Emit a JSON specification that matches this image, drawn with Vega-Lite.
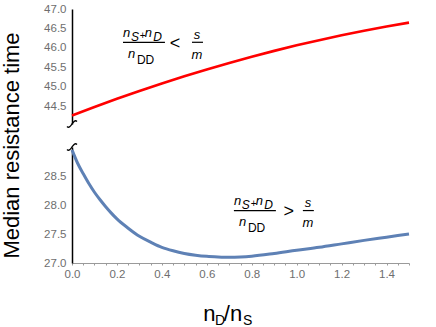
{
  "$schema": "https://vega.github.io/schema/vega-lite/v6.json",
  "padding": {"left": 0, "top": 3, "right": 0, "bottom": 0},
  "bounds": "flush",
  "spacing": 23,
  "config": {
    "view": {"stroke": null},
    "font": "Liberation Sans",
    "axis": {"labelFont": "Liberation Sans", "labelFontSize": 11.5, "labelColor": "#6e6e6e", "grid": false, "titleFont": "Liberation Sans"}
  },
  "datasets": {
    "red": [
      {"x": 0, "y": 44.27}, {"x": 0.1, "y": 44.488}, {"x": 0.2, "y": 44.697}, {"x": 0.3, "y": 44.898},
      {"x": 0.4, "y": 45.09}, {"x": 0.5, "y": 45.275}, {"x": 0.6, "y": 45.45}, {"x": 0.7, "y": 45.617},
      {"x": 0.8, "y": 45.776}, {"x": 0.9, "y": 45.926}, {"x": 1.0, "y": 46.068}, {"x": 1.1, "y": 46.201},
      {"x": 1.2, "y": 46.326}, {"x": 1.3, "y": 46.443}, {"x": 1.4, "y": 46.551}, {"x": 1.5, "y": 46.65}
    ],
    "blue": [
      {"x": 0, "y": 28.95}, {"x": 0.025, "y": 28.72}, {"x": 0.05, "y": 28.54}, {"x": 0.075, "y": 28.37},
      {"x": 0.1, "y": 28.22}, {"x": 0.125, "y": 28.09}, {"x": 0.15, "y": 27.97}, {"x": 0.175, "y": 27.86},
      {"x": 0.2, "y": 27.76}, {"x": 0.25, "y": 27.6}, {"x": 0.3, "y": 27.46}, {"x": 0.35, "y": 27.36},
      {"x": 0.4, "y": 27.27}, {"x": 0.45, "y": 27.21}, {"x": 0.5, "y": 27.165}, {"x": 0.55, "y": 27.135},
      {"x": 0.6, "y": 27.115}, {"x": 0.65, "y": 27.105}, {"x": 0.7, "y": 27.1}, {"x": 0.75, "y": 27.105},
      {"x": 0.8, "y": 27.118}, {"x": 0.9, "y": 27.165}, {"x": 1.0, "y": 27.22}, {"x": 1.1, "y": 27.27},
      {"x": 1.2, "y": 27.33}, {"x": 1.3, "y": 27.39}, {"x": 1.4, "y": 27.445}, {"x": 1.5, "y": 27.5}
    ],
    "notes": [
      {"panel": "top", "part": "n", "x": 0.227, "y": 46.292, "t": "n"},
      {"panel": "top", "part": "sub", "x": 0.2625, "y": 46.189, "t": "S"},
      {"panel": "top", "part": "plus", "x": 0.3015, "y": 46.228, "t": "+"},
      {"panel": "top", "part": "n", "x": 0.3235, "y": 46.292, "t": "n"},
      {"panel": "top", "part": "sub", "x": 0.3615, "y": 46.189, "t": "D"},
      {"panel": "top", "part": "n", "x": 0.249, "y": 45.747, "t": "n"},
      {"panel": "top", "part": "dd", "x": 0.289, "y": 45.601, "t": "DD"},
      {"panel": "top", "part": "op", "x": 0.458, "y": 46.1, "t": "<"},
      {"panel": "top", "part": "sm", "x": 0.556, "y": 46.24, "t": "s"},
      {"panel": "top", "part": "sm", "x": 0.556, "y": 45.729, "t": "m"},
      {"panel": "bottom", "part": "n", "x": 0.7206, "y": 28.002, "t": "n"},
      {"panel": "bottom", "part": "sub", "x": 0.756, "y": 27.933, "t": "S"},
      {"panel": "bottom", "part": "plus", "x": 0.7955, "y": 27.959, "t": "+"},
      {"panel": "bottom", "part": "n", "x": 0.8175, "y": 28.002, "t": "n"},
      {"panel": "bottom", "part": "sub", "x": 0.8555, "y": 27.933, "t": "D"},
      {"panel": "bottom", "part": "n", "x": 0.743, "y": 27.636, "t": "n"},
      {"panel": "bottom", "part": "dd", "x": 0.783, "y": 27.538, "t": "DD"},
      {"panel": "bottom", "part": "op", "x": 0.965, "y": 27.873, "t": ">"},
      {"panel": "bottom", "part": "sm", "x": 1.05, "y": 27.967, "t": "s"},
      {"panel": "bottom", "part": "sm", "x": 1.05, "y": 27.624, "t": "m"},
      {"panel": "bottom", "part": "tn", "x": 0.5845, "y": 25.997, "t": "n"},
      {"panel": "bottom", "part": "ts", "x": 0.636, "y": 25.931, "t": "D"},
      {"panel": "bottom", "part": "tn", "x": 0.676, "y": 25.997, "t": "/"},
      {"panel": "bottom", "part": "tn", "x": 0.703, "y": 25.997, "t": "n"},
      {"panel": "bottom", "part": "ts", "x": 0.761, "y": 25.931, "t": "S"}
    ],
    "bars": [
      {"panel": "top", "x": 0.227, "x2": 0.4137, "y": 46.146},
      {"panel": "top", "x": 0.534, "x2": 0.583, "y": 46.146},
      {"panel": "bottom", "x": 0.7206, "x2": 0.9075, "y": 27.904},
      {"panel": "bottom", "x": 1.0276, "x2": 1.0765, "y": 27.904}
    ],
    "breaks": [
      {"panel": "top", "x": 0, "y": 44.05},
      {"panel": "bottom", "x": 0, "y": 29.0}
    ]
  },
  "vconcat": [
    {
      "width": 337,
      "height": 115,
      "encoding": {
        "x": {"field": "x", "type": "quantitative", "scale": {"domain": [0, 1.5], "nice": false, "zero": false}, "axis": null},
        "y": {"field": "y", "type": "quantitative", "scale": {"domain": [44.05, 47.0], "nice": false, "zero": false},
              "axis": {"values": [44.5, 45, 45.5, 46, 46.5, 47], "format": ".1f", "title": null, "ticks": false, "domainColor": "black", "domainWidth": 1.5, "labelPadding": 6}}
      },
      "layer": [
        {"data": {"name": "red"}, "mark": {"type": "line", "color": "#ff0000", "strokeWidth": 2.6, "interpolate": "monotone"}},
        {"data": {"name": "breaks"}, "transform": [{"filter": "datum.panel === 'top'"}],
         "mark": {"type": "point", "shape": "M -1 0.5 C -0.6 0.9 -0.3 0.4 0 0 C 0.3 -0.4 0.6 -0.9 1 -0.5", "size": 100, "filled": false, "stroke": "black", "strokeWidth": 1.3, "opacity": 1}},
        {"data": {"name": "bars"}, "transform": [{"filter": "datum.panel === 'top'"}],
         "mark": {"type": "rule", "color": "black", "strokeWidth": 1.2}, "encoding": {"x2": {"field": "x2"}}},
        {"data": {"name": "notes"}, "transform": [{"filter": "datum.panel === 'top' && datum.part === 'n'"}],
         "mark": {"type": "text", "fontStyle": "italic", "fontSize": 13, "align": "left", "baseline": "alphabetic", "color": "black"}, "encoding": {"text": {"field": "t"}}},
        {"data": {"name": "notes"}, "transform": [{"filter": "datum.panel === 'top' && datum.part === 'sub'"}],
         "mark": {"type": "text", "fontStyle": "italic", "fontSize": 12, "align": "left", "baseline": "alphabetic", "color": "black"}, "encoding": {"text": {"field": "t"}}},
        {"data": {"name": "notes"}, "transform": [{"filter": "datum.panel === 'top' && datum.part === 'plus'"}],
         "mark": {"type": "text", "fontSize": 10, "align": "left", "baseline": "alphabetic", "color": "black"}, "encoding": {"text": {"field": "t"}}},
        {"data": {"name": "notes"}, "transform": [{"filter": "datum.panel === 'top' && datum.part === 'dd'"}],
         "mark": {"type": "text", "fontSize": 12, "align": "left", "baseline": "alphabetic", "color": "black"}, "encoding": {"text": {"field": "t"}}},
        {"data": {"name": "notes"}, "transform": [{"filter": "datum.panel === 'top' && datum.part === 'op'"}],
         "mark": {"type": "text", "fontSize": 18, "align": "center", "baseline": "middle", "color": "black"}, "encoding": {"text": {"field": "t"}}},
        {"data": {"name": "notes"}, "transform": [{"filter": "datum.panel === 'top' && datum.part === 'sm'"}],
         "mark": {"type": "text", "fontStyle": "italic", "fontSize": 13, "align": "center", "baseline": "alphabetic", "color": "black"}, "encoding": {"text": {"field": "t"}}}
      ]
    },
    {
      "width": 337,
      "height": 116,
      "encoding": {
        "x": {"field": "x", "type": "quantitative", "scale": {"domain": [0, 1.5], "nice": false, "zero": false},
              "axis": {"values": [0, 0.05, 0.1, 0.15, 0.2, 0.25, 0.3, 0.35, 0.4, 0.45, 0.5, 0.55, 0.6, 0.65, 0.7, 0.75, 0.8, 0.85, 0.9, 0.95, 1.0, 1.05, 1.1, 1.15, 1.2, 1.25, 1.3, 1.35, 1.4, 1.45, 1.5],
                       "labelExpr": "(round(datum.value * 100) % 20 === 0) ? format(datum.value, '.1f') : ''",
                       "labelOverlap": false, "labelFlush": false, "title": null, "domainColor": "#9a9a9a", "tickColor": "#9a9a9a", "tickSize": 2, "labelPadding": 3}},
        "y": {"field": "y", "type": "quantitative", "scale": {"domain": [27.0, 29.0], "nice": false, "zero": false},
              "axis": {"values": [27, 27.5, 28, 28.5], "format": ".1f", "ticks": false, "domainColor": "black", "domainWidth": 1.5, "labelPadding": 6,
                       "title": "Median resistance time", "titleFontSize": 22, "titleFontWeight": "normal", "titleColor": "black",
                       "titleAngle": 270, "titleAlign": "center", "titleBaseline": "alphabetic", "titleX": -53.5, "titleY": -2}}
      },
      "layer": [
        {"data": {"name": "blue"}, "mark": {"type": "line", "color": "#5e81b5", "strokeWidth": 3, "interpolate": "monotone"}},
        {"data": {"name": "breaks"}, "transform": [{"filter": "datum.panel === 'bottom'"}],
         "mark": {"type": "point", "shape": "M -1 0.5 C -0.6 0.9 -0.3 0.4 0 0 C 0.3 -0.4 0.6 -0.9 1 -0.5", "size": 100, "filled": false, "stroke": "black", "strokeWidth": 1.3, "opacity": 1}},
        {"data": {"name": "bars"}, "transform": [{"filter": "datum.panel === 'bottom'"}],
         "mark": {"type": "rule", "color": "black", "strokeWidth": 1.2}, "encoding": {"x2": {"field": "x2"}}},
        {"data": {"name": "notes"}, "transform": [{"filter": "datum.panel === 'bottom' && datum.part === 'n'"}],
         "mark": {"type": "text", "fontStyle": "italic", "fontSize": 13, "align": "left", "baseline": "alphabetic", "color": "black"}, "encoding": {"text": {"field": "t"}}},
        {"data": {"name": "notes"}, "transform": [{"filter": "datum.panel === 'bottom' && datum.part === 'sub'"}],
         "mark": {"type": "text", "fontStyle": "italic", "fontSize": 12, "align": "left", "baseline": "alphabetic", "color": "black"}, "encoding": {"text": {"field": "t"}}},
        {"data": {"name": "notes"}, "transform": [{"filter": "datum.panel === 'bottom' && datum.part === 'plus'"}],
         "mark": {"type": "text", "fontSize": 10, "align": "left", "baseline": "alphabetic", "color": "black"}, "encoding": {"text": {"field": "t"}}},
        {"data": {"name": "notes"}, "transform": [{"filter": "datum.panel === 'bottom' && datum.part === 'dd'"}],
         "mark": {"type": "text", "fontSize": 12, "align": "left", "baseline": "alphabetic", "color": "black"}, "encoding": {"text": {"field": "t"}}},
        {"data": {"name": "notes"}, "transform": [{"filter": "datum.panel === 'bottom' && datum.part === 'op'"}],
         "mark": {"type": "text", "fontSize": 18, "align": "center", "baseline": "middle", "color": "black"}, "encoding": {"text": {"field": "t"}}},
        {"data": {"name": "notes"}, "transform": [{"filter": "datum.panel === 'bottom' && datum.part === 'sm'"}],
         "mark": {"type": "text", "fontStyle": "italic", "fontSize": 13, "align": "center", "baseline": "alphabetic", "color": "black"}, "encoding": {"text": {"field": "t"}}},
        {"data": {"name": "notes"}, "transform": [{"filter": "datum.panel === 'bottom' && datum.part === 'tn'"}],
         "mark": {"type": "text", "fontSize": 22, "align": "left", "baseline": "alphabetic", "color": "black"}, "encoding": {"text": {"field": "t"}}},
        {"data": {"name": "notes"}, "transform": [{"filter": "datum.panel === 'bottom' && datum.part === 'ts'"}],
         "mark": {"type": "text", "fontSize": 14, "align": "left", "baseline": "alphabetic", "color": "black"}, "encoding": {"text": {"field": "t"}}}
      ]
    }
  ]
}
